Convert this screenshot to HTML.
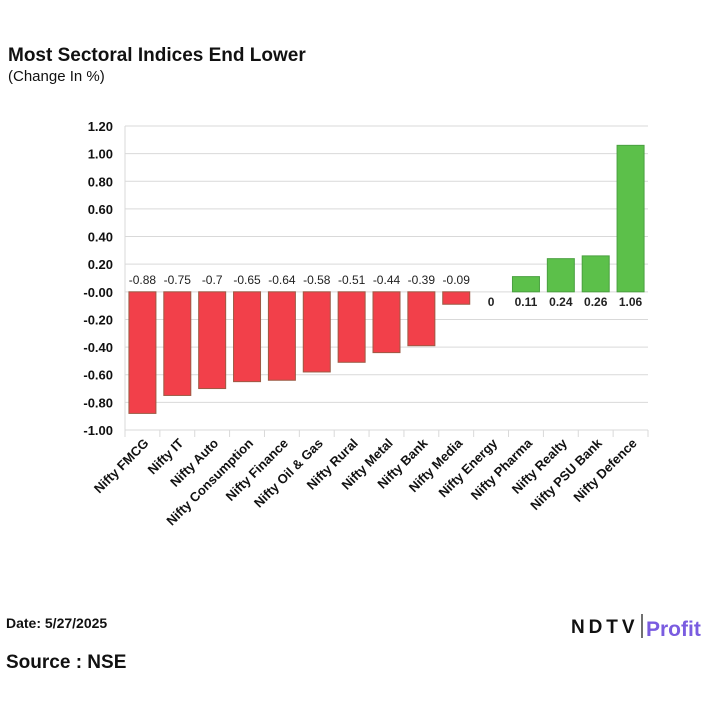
<!DOCTYPE html>
<html><head><meta charset="utf-8">
<style>
body{margin:0;background:#fff;width:720px;height:720px;overflow:hidden;font-family:"Liberation Sans",Arial,sans-serif;}
</style></head>
<body>
<svg width="720" height="720" viewBox="0 0 720 720" xmlns="http://www.w3.org/2000/svg">
<text x="8" y="61" font-size="19" font-weight="bold" fill="#111">Most Sectoral Indices End Lower</text>
<text x="8" y="81" font-size="15" fill="#111">(Change In %)</text>
<g id="grid"></g>
<g id="bars"></g>
<g id="labels"></g>
<text x="6" y="628" font-size="14" font-weight="bold" fill="#111">Date: 5/27/2025</text>
<text x="6" y="668" font-size="19" font-weight="bold" fill="#111">Source : NSE</text>
<g>
<text x="571" y="633" font-size="19" font-weight="bold" fill="#111" letter-spacing="-1.5" textLength="62">NDTV</text>
<line x1="642" y1="614" x2="642" y2="638" stroke="#111" stroke-width="1.2"/>
<text x="646" y="636" font-size="21" font-weight="bold" fill="#7a5ce0">Profit</text>
</g>
</svg>
<script>
const categories=["Nifty FMCG","Nifty IT","Nifty Auto","Nifty Consumption","Nifty Finance","Nifty Oil & Gas","Nifty Rural","Nifty Metal","Nifty Bank","Nifty Media","Nifty Energy","Nifty Pharma","Nifty Realty","Nifty PSU Bank","Nifty Defence"];
const values=[-0.88,-0.75,-0.7,-0.65,-0.64,-0.58,-0.51,-0.44,-0.39,-0.09,0,0.11,0.24,0.26,1.06];
const valueLabels=["-0.88","-0.75","-0.7","-0.65","-0.64","-0.58","-0.51","-0.44","-0.39","-0.09","0","0.11","0.24","0.26","1.06"];
const ticks=[1.2,1.0,0.8,0.6,0.4,0.2,0,-0.2,-0.4,-0.6,-0.8,-1.0];
const tickLabels=["1.20","1.00","0.80","0.60","0.40","0.20","-0.00","-0.20","-0.40","-0.60","-0.80","-1.00"];
const NS="http://www.w3.org/2000/svg";
const x0=125,x1=648,yTop=126,yBot=430,vMax=1.2,vMin=-1.0;
const bw=(x1-x0)/categories.length;
function y(v){return yTop+(vMax-v)/(vMax-vMin)*(yBot-yTop);}
function xc(i){return x0+bw*(i+0.5);}
function mk(tag,attrs,parent){const e=document.createElementNS(NS,tag);for(const k in attrs)e.setAttribute(k,attrs[k]);parent.appendChild(e);return e;}
const grid=document.getElementById('grid'),bars=document.getElementById('bars'),labels=document.getElementById('labels');
ticks.forEach((t,i)=>{
  const l=mk('line',{x1:x0,x2:x1,y1:y(t),y2:y(t),stroke:'#d9d9d9','stroke-width':1},grid);
  
  
  const tx=mk('text',{x:x0-12,y:y(t)+5,'text-anchor':'end','font-size':13,'font-weight':'bold',fill:'#111'},grid);
  tx.textContent=tickLabels[i];
  
  
});
const ax=mk('line',{x1:x0,x2:x0,y1:yTop,y2:yBot+7,stroke:'#d9d9d9'},grid);


for(let i=0;i<=categories.length;i++){
  const tk=mk('line',{x1:x0+bw*i,x2:x0+bw*i,y1:yBot,y2:yBot+7,stroke:'#d9d9d9'},grid);
  
  
}
values.forEach((v,i)=>{
  const w=27,cx=xc(i);
  const top=Math.min(y(v),y(0)),h=Math.abs(y(v)-y(0));
  if(h>0){
    const r=mk('rect',{x:cx-w/2,y:top,width:w,height:h,fill:v<0?'#f2404a':'#5cc04a',stroke:v<0?'#9c5a44':'#4aa040','stroke-width':1},bars);
    
    
  }
  const ly=v<0?y(0)-8:y(0)+14;
  const t=mk('text',{x:cx,y:ly,'text-anchor':'middle','font-size':12,fill:'#222','font-weight':v<0?'normal':'bold'},labels);
  t.textContent=valueLabels[i];
  
  
  const c=mk('text',{x:cx+7,y:yBot+14,'text-anchor':'end','font-size':13,'font-weight':'bold',fill:'#111',transform:`rotate(-45 ${cx+7} ${yBot+14})`},labels);
  c.textContent=categories[i];
  
  
});
</script>
</body></html>
